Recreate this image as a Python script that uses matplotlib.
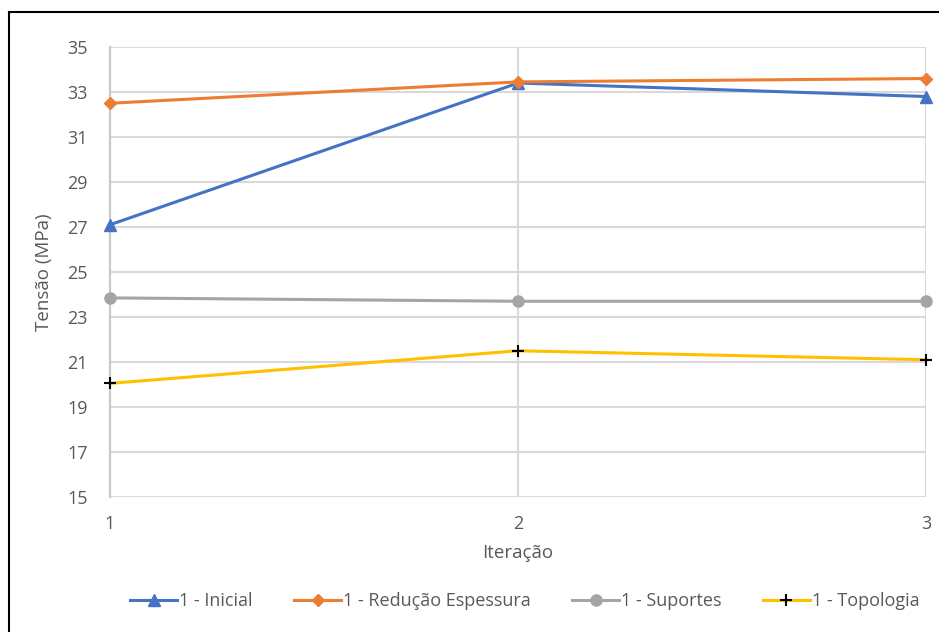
import matplotlib.pyplot as plt
from matplotlib.lines import Line2D

iteracoes = [1, 2, 3]
inicial = [27.1, 33.4, 32.8]
reducao = [32.5, 33.45, 33.6]
suportes = [23.85, 23.7, 23.7]
topologia = [20.05, 21.5, 21.1]

plt.rcParams['font.family'] = ['Open Sans', 'DejaVu Sans']
txt = '#595959'
grid = '#d9d9d9'

fig = plt.figure(figsize=(9.39, 6.32), dpi=100)
ax = fig.add_axes([0.1171, 0.2136, 0.8691, 0.712])

ax.plot(iteracoes, inicial, color='#4472C4', lw=2.2, marker='^', ms=8, label='1 - Inicial', clip_on=False, zorder=3)
ax.plot(iteracoes, reducao, color='#ED7D31', lw=2.2, marker='D', ms=6.5, label='1 - Redução Espessura', clip_on=False, zorder=3)
ax.plot(iteracoes, suportes, color='#A5A5A5', lw=2.2, marker='o', ms=8, label='1 - Suportes', clip_on=False, zorder=3)
ax.plot(iteracoes, topologia, color='#FFC000', lw=2.2, marker='+', ms=8, mec='black', mew=1.5,
        label='1 - Topologia', clip_on=False, zorder=3)

ax.set_xlim(1, 3)
ax.set_ylim(15, 35)
ax.set_xticks(iteracoes)
ax.set_yticks(range(15, 36, 2))
ax.grid(True, color=grid, lw=1.5)
ax.set_axisbelow(True)
for s in ax.spines.values():
    s.set_visible(False)
ax.spines['left'].set_visible(True)
ax.spines['left'].set_color('#c8c8c8')
ax.spines['left'].set_linewidth(1.5)
ax.tick_params(length=0, labelsize=13, colors=txt, pad=16)
ax.tick_params(axis='x', pad=13)

ax.set_xlabel('Iteração', fontsize=13.5, color=txt, labelpad=8)
ax.set_ylabel('Tensão (MPa)', fontsize=13.5, color=txt, labelpad=10)

fig.legend(loc='center', bbox_to_anchor=(0.559, 0.049), ncol=4, frameon=False,
           fontsize=13, labelcolor=txt, handlelength=2.6, handletextpad=0.1, columnspacing=2.3)

# moldura preta (esquerda e topo)
fig.add_artist(Line2D([0.0096, 0.0096], [0, 0.981], color='black', lw=1.5))
fig.add_artist(Line2D([0.0096, 1.0], [0.981, 0.981], color='black', lw=1.5))

fig.savefig('out.png', dpi=100)
